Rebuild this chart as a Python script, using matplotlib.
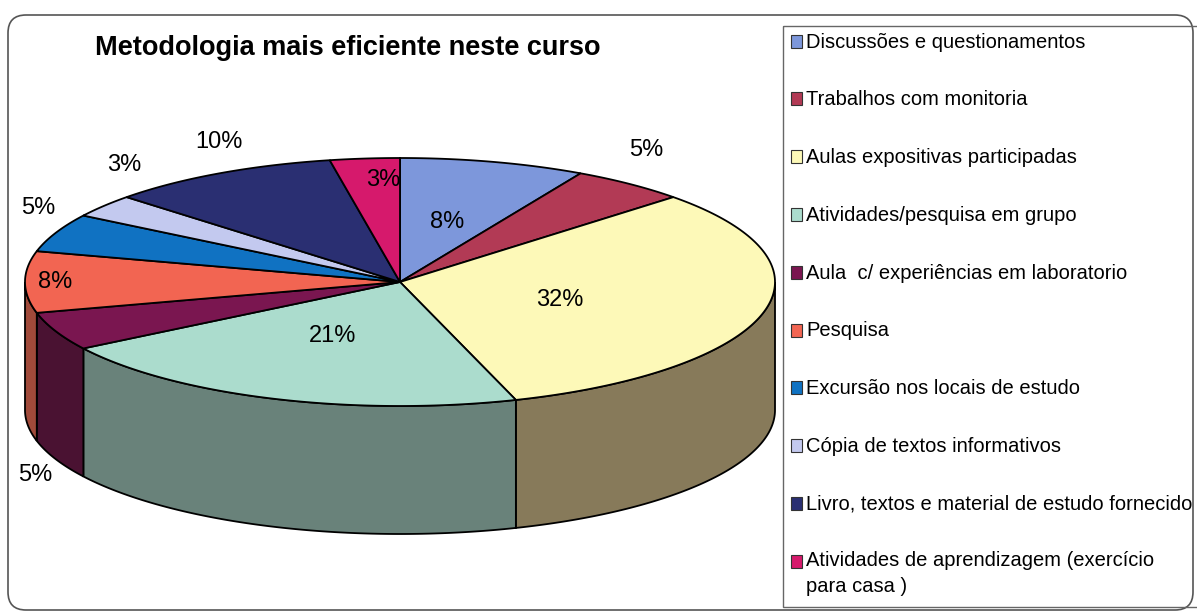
"""
3D-style pie: Metodologia mais eficiente neste curso.
"""

import numpy as np
from matplotlib import pyplot as plt
from matplotlib.patches import Polygon, Rectangle, FancyBboxPatch

categories = [
    "Discussões e questionamentos",
    "Trabalhos com monitoria",
    "Aulas expositivas participadas",
    "Atividades/pesquisa em grupo",
    "Aula  c/ experiências em laboratorio",
    "Pesquisa",
    "Excursão nos locais de estudo",
    "Cópia de textos informativos",
    "Livro, textos e material de estudo fornecido",
    "Atividades de aprendizagem (exercício\npara casa )",
]
values = [8, 5, 32, 21, 5, 8, 5, 3, 10, 3]
pct_labels = ["8%", "5%", "32%", "21%", "5%", "8%", "5%", "3%", "10%", "3%"]

colors = ["#7d97db", "#b23a55", "#fdf9b8", "#abdccd", "#7a1650",
          "#f26552", "#1072c2", "#c3c9ef", "#2a2f72", "#d6196c"]
side_colors = ["#43517a", "#611f2e", "#877a5a", "#69827a", "#4a1232",
               "#a04a3a", "#0a3f6c", "#6b6f86", "#171a40", "#760e3b"]

# label placement as radial factors (x, y) along each slice's mid angle
label_r = [(0.5, 0.5), (1.07, 1.35), (0.44, 0.58), (0.53, 0.46), (1.06, 1.33),
           (0.92, 0.92), (1.05, 1.51), (0.93, 1.54), (1.0, 1.29), (0.47, 0.83)]

FONT = ["Liberation Sans", "Arial", "DejaVu Sans"]


def main():
    fig = plt.figure(figsize=(11.97, 6.16), dpi=100)
    ax = fig.add_axes([0, 0, 1, 1])
    ax.set_xlim(0, 1197)
    ax.set_ylim(616, 0)
    ax.axis("off")

    # outer frame and legend box
    ax.add_patch(FancyBboxPatch((8, 15), 1185, 595,
                                boxstyle="round,pad=0,rounding_size=18",
                                fc="white", ec="#555555", lw=1.2, zorder=0))
    ax.add_patch(Rectangle((783, 26), 430, 581, fc="none", ec="#666666",
                           lw=1.0, zorder=1))

    cx, cy, a, b, depth = 400, 282, 375, 124, 128
    cum = np.concatenate([[0], np.cumsum(values)]) / sum(values)
    starts = 90 - 360 * cum[:-1]
    ends = 90 - 360 * cum[1:]

    def arc(t1, t2, n=120):
        t = np.radians(np.linspace(t1, t2, n))
        return np.column_stack([cx + a * np.cos(t), cy - b * np.sin(t)])

    # side walls (front half only)
    for t1, t2, c in zip(starts, ends, side_colors):
        hi, lo = min(t1, 0), max(t2, -180)
        if hi <= lo:
            continue
        top = arc(hi, lo)
        bot = top[::-1] + [0, depth]
        ax.add_patch(Polygon(np.vstack([top, bot]), closed=True,
                             fc=c, ec="black", lw=1.3, zorder=2))

    # top faces
    for t1, t2, c in zip(starts, ends, colors):
        pts = np.vstack([[cx, cy], arc(t1, t2)])
        ax.add_patch(Polygon(pts, closed=True, fc=c, ec="black", lw=1.3,
                             zorder=3))

    # percentage labels
    for t1, t2, lab, (rx, ry) in zip(starts, ends, pct_labels, label_r):
        m = np.radians((t1 + t2) / 2)
        x = cx + a * rx * np.cos(m)
        y = cy - b * ry * np.sin(m)
        if np.sin(m) < 0 and ry > 1:
            y += depth
        ax.text(x, y, lab, ha="center", va="center", fontsize=17,
                family=FONT, color="black", zorder=4)

    ax.text(95, 48, "Metodologia mais eficiente neste curso", ha="left",
            va="center", fontsize=19.5, fontweight="bold", family=FONT,
            color="black", zorder=4)

    # legend
    for i, (name, c) in enumerate(zip(categories, colors)):
        yc = 41 + i * 57.8
        ax.add_patch(Rectangle((791, yc - 6.5), 11, 13, fc=c, ec="#333333",
                               lw=0.8, zorder=4))
        if "\n" in name:
            ax.text(806, yc - 10, name, ha="left", va="top", fontsize=14.5,
                    family=FONT, color="black", zorder=4, linespacing=1.45)
        else:
            ax.text(806, yc + 1, name, ha="left", va="center", fontsize=14.5,
                    family=FONT, color="black", zorder=4)

    fig.savefig("out.png", dpi=100)


if __name__ == "__main__":
    main()
